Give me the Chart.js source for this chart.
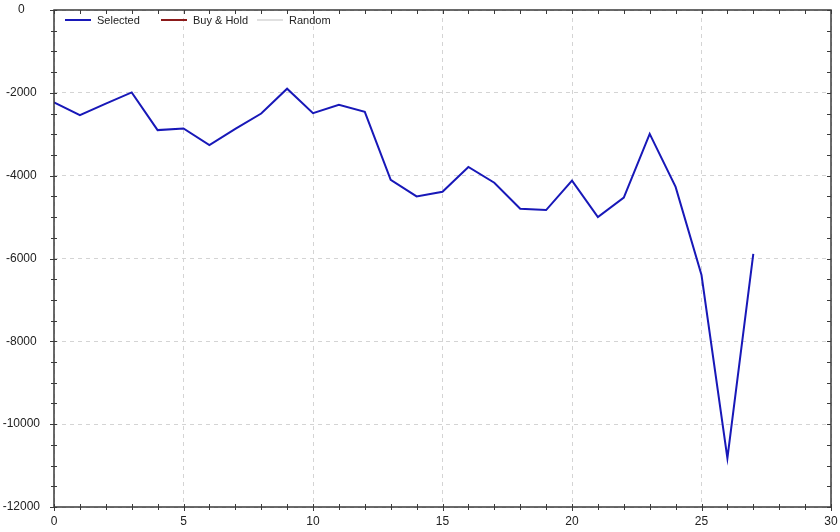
<!DOCTYPE html>
<html>
<head>
<meta charset="utf-8">
<script src="https://cdn.jsdelivr.net/npm/chart.js@4/dist/chart.umd.min.js"></script>
<style>
  html, body { margin: 0; padding: 0; background: #fff; }
  #wrap { position: relative; width: 840px; height: 532px; }
  #legend { position: absolute; left: 54px; top: 12px; font-family: "Liberation Sans", Arial, sans-serif; font-size: 11px; color: #222; }
  .item { position: absolute; top: 0; height: 18px; white-space: nowrap; }
  .sw { position: absolute; top: 7px; width: 26px; height: 2px; }
  .lb { position: absolute; top: 2px; left: 32px; }
</style>
</head>
<body>
<div id="wrap">
  <canvas id="c" width="840" height="532"></canvas>
  <div id="legend"></div>
</div>
<script>
const xValues = [0,1,2,3,4,5,6,7,8,9,10,11,12,13,14,15,16,17,18,19,20,21,22,23,24,25,26,27];
const selected = [-2230,-2540,-2260,-1990,-2900,-2860,-3260,-2870,-2500,-1900,-2490,-2290,-2460,-4100,-4500,-4390,-3790,-4170,-4800,-4830,-4120,-5000,-4530,-2990,-4270,-6400,-10820,-5890];
const buyHold = [];
const randomSeries = [];
const seriesNames = ["Selected", "Buy & Hold", "Random"];
const seriesColors = ["#1818b8", "#8b1a1a", "#e0e0e0"];
const xTickStep = 5, yTickStep = 2000;
const xMin = 0, xMax = 30, yMin = -12000, yMax = 0;

const toPts = arr => arr.map((v, i) => ({ x: xValues[i], y: v }));

const frame = {
  id: 'frame',
  afterDraw(chart) {
    const { ctx, chartArea: a, scales: { x, y } } = chart;
    ctx.save();
    ctx.strokeStyle = '#3a3a3a';
    ctx.lineWidth = 1.5;
    ctx.strokeRect(a.left, a.top, a.right - a.left, a.bottom - a.top);
    ctx.lineWidth = 1;
    ctx.beginPath();
    for (let v = xMin; v <= xMax; v += 1) {
      const px = Math.round(x.getPixelForValue(v)) + 0.5;
      const major = v % xTickStep === 0;
      ctx.moveTo(px, a.bottom - 3); ctx.lineTo(px, a.bottom + (major ? 4 : 3));
      ctx.moveTo(px, a.top); ctx.lineTo(px, a.top + 4);
    }
    for (let v = yMin; v <= yMax; v += 500) {
      const py = Math.round(y.getPixelForValue(v)) + 0.5;
      const major = v % yTickStep === 0;
      ctx.moveTo(a.left - (major ? 4 : 3), py); ctx.lineTo(a.left + 3, py);
      ctx.moveTo(a.right - 4, py); ctx.lineTo(a.right, py);
    }
    ctx.stroke();
    ctx.restore();
  }
};

const chart = new Chart(document.getElementById('c'), {
  type: 'line',
  data: {
    datasets: [
      { label: seriesNames[0], data: toPts(selected), borderColor: seriesColors[0], borderWidth: 2, pointRadius: 0, fill: false, tension: 0 },
      { label: seriesNames[1], data: toPts(buyHold), borderColor: seriesColors[1], borderWidth: 2, pointRadius: 0, fill: false },
      { label: seriesNames[2], data: toPts(randomSeries), borderColor: seriesColors[2], borderWidth: 2, pointRadius: 0, fill: false }
    ]
  },
  options: {
    responsive: false,
    animation: false,
    layout: { autoPadding: false, padding: { top: 10, right: 9, left: 0, bottom: 0 } },
    plugins: { legend: { display: false }, tooltip: { enabled: false } },
    scales: {
      x: {
        type: 'linear', min: xMin, max: xMax,
        ticks: { stepSize: xTickStep, color: '#222', font: { family: 'Liberation Sans', size: 12 }, padding: 7, maxRotation: 0, callback: v => String(v) },
        grid: { color: '#d4d4d4', tickLength: 0, drawTicks: false },
        border: { display: false, dash: [4, 4] },
        afterFit(s) { s.height = 25; s.paddingLeft = 0; s.paddingRight = 0; }
      },
      y: {
        type: 'linear', min: yMin, max: yMax,
        ticks: { stepSize: yTickStep, color: '#222', font: { family: 'Liberation Sans', size: 12 }, crossAlign: 'center', padding: 14, callback: v => String(v) },
        grid: { color: '#d4d4d4', drawTicks: false },
        border: { display: false, dash: [4, 4] },
        afterFit(s) { s.width = 54; s.paddingTop = 0; s.paddingBottom = 0; }
      }
    }
  },
  plugins: [frame]
});

const lg = document.getElementById('legend');
chart.data.datasets.forEach((ds, i) => {
  const it = document.createElement('div');
  it.className = 'item';
  it.style.left = (11 + i * 96) + 'px';
  const sw = document.createElement('div');
  sw.className = 'sw';
  sw.style.background = ds.borderColor;
  const lb = document.createElement('span');
  lb.className = 'lb';
  lb.textContent = ds.label;
  it.appendChild(sw); it.appendChild(lb);
  lg.appendChild(it);
});
</script>
</body>
</html>
